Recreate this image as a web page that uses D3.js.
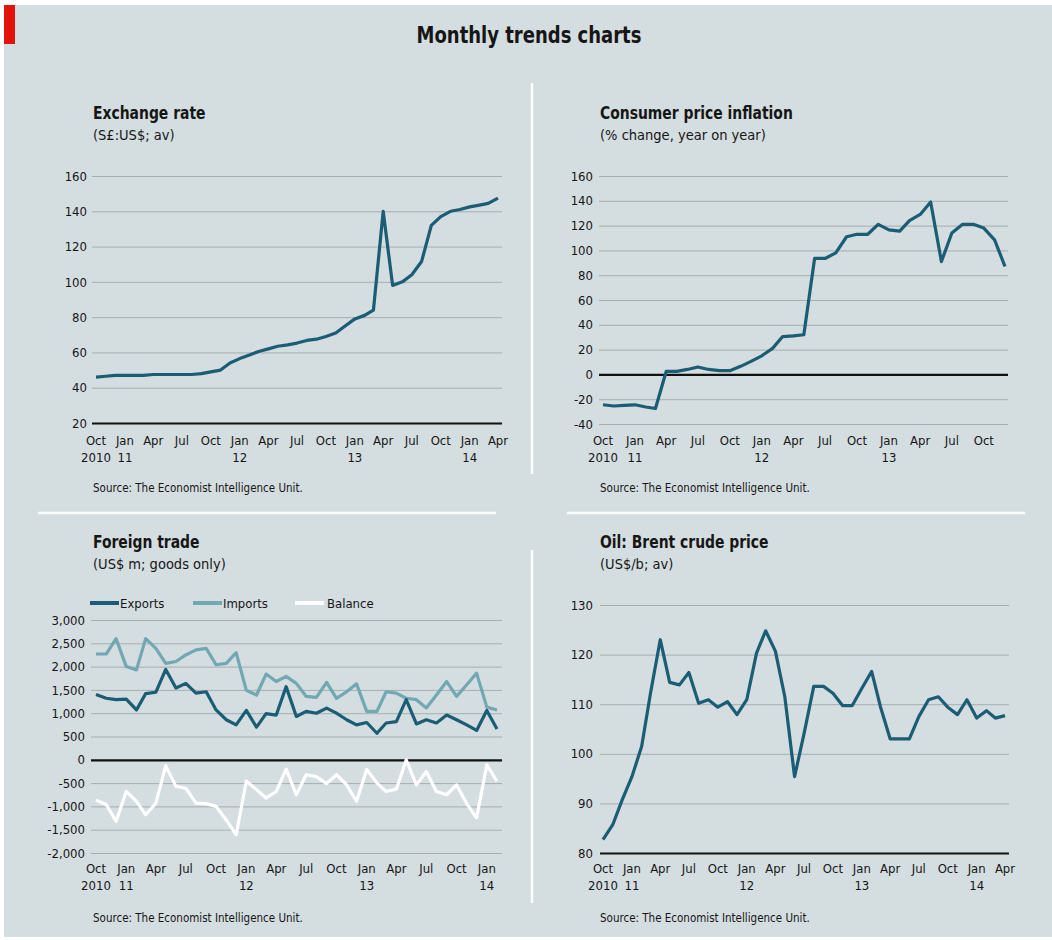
<!DOCTYPE html>
<html>
<head>
<meta charset="utf-8">
<script src="https://cdn.jsdelivr.net/npm/d3@7"></script>
<style>
  body { margin: 0; background: #fff; }
  svg text { font-family: "Liberation Sans Narrow", "DejaVu Sans Condensed", "Roboto Condensed", sans-serif; fill: #161616; }
</style>
</head>
<body>
<svg id="chart" width="1052" height="940"></svg>
<script>
// ---- data (monthly) ----
const exchangeRate = [46, 46.5, 47, 47, 47, 47, 47.5, 47.5, 47.5, 47.5, 47.5, 48, 49, 50, 54,
  56.5, 58.5, 60.5, 62, 63.5, 64.3, 65.3, 66.8, 67.5, 69, 71, 75, 79, 81, 84,
  140, 98, 100, 104, 111.5, 132, 137, 140, 141, 142.5, 143.5, 144.5, 147.5];          // Oct 2010 - Apr 2014
const cpiInflation = [-24.5, -25.5, -25, -24.5, -26.3, -27.5, 2.5, 2.5, 4, 6, 4, 3, 3, 6.5,
  10.5, 15, 21, 30.5, 31, 32, 93.5, 93.5, 98, 111, 113, 113, 121, 116.5, 115.5, 124,
  129, 139, 91, 114, 121, 121, 118, 108.5, 87];                                        // Oct 2010 - Dec 2013
const tradeExports = [1400, 1320, 1290, 1300, 1070, 1420, 1450, 1940, 1540, 1640, 1430, 1460,
  1070, 860, 750, 1060, 700, 990, 960, 1570, 930, 1040, 1000, 1110, 1000, 860, 750, 800,
  570, 790, 820, 1290, 770, 860, 790, 960, 860, 750, 630, 1060, 660];                  // Oct 2010 - Feb 2014
const tradeImports = [2270, 2270, 2600, 2000, 1930, 2600, 2390, 2070, 2110, 2250, 2360, 2390,
  2040, 2070, 2300, 1490, 1390, 1840, 1680, 1790, 1640, 1360, 1340, 1660, 1320, 1460, 1630,
  1040, 1040, 1460, 1430, 1320, 1290, 1110, 1390, 1680, 1360, 1610, 1860, 1130, 1070];
const tradeBalance = [-870, -960, -1320, -680, -890, -1180, -930, -130, -570, -610, -930, -940,
  -1000, -1290, -1610, -460, -640, -820, -680, -200, -750, -320, -360, -510, -320, -540, -890,
  -210, -500, -680, -630, 0, -540, -250, -680, -750, -540, -940, -1250, -110, -460];
const brentPrice = [82.7, 85.7, 90.7, 95.4, 101.5, 112.2, 123, 114.4, 113.9, 116.4, 110.2, 110.9,
  109.4, 110.5, 107.9, 110.9, 120.3, 124.8, 120.7, 111.5, 95.4, 104, 113.6, 113.6, 112.2,
  109.7, 109.7, 113.2, 116.6, 109.5, 103, 103, 103, 107.5, 110.9, 111.5, 109.4, 107.9,
  110.9, 107.2, 108.7, 107.2, 107.7];                                                  // Oct 2010 - Apr 2014

const exchangeTicks = [20, 40, 60, 80, 100, 120, 140, 160];
const cpiTicks = [-40, -20, 0, 20, 40, 60, 80, 100, 120, 140, 160];
const tradeTicks = [-2000, -1500, -1000, -500, 0, 500, 1000, 1500, 2000, 2500, 3000];
const brentTicks = [80, 90, 100, 110, 120, 130];

const tradeSeries = ["Exports", "Imports", "Balance"];
const startMonth = new Date(2010, 9, 1);
const sourceText = "Source: The Economist Intelligence Unit.";

// ---- colours ----
const bg = "#d4dddf";
const dark = "#1a5d75";
const light = "#72a8b3";
const gridCol = "#a5aeb1";

const svg = d3.select("#chart");

svg.append("rect").attr("x", 4).attr("y", 5).attr("width", 1048).attr("height", 932).attr("fill", bg);
svg.append("rect").attr("x", 4).attr("y", 5).attr("width", 11).attr("height", 39).attr("fill", "#e3120b");

// bold headings are squeezed horizontally to look like the narrow house font
svg.append("text")
  .attr("transform", "translate(529,43) scale(0.87,1)")
  .attr("text-anchor", "middle")
  .style("font-size", "23px").style("font-weight", "bold")
  .text("Monthly trends charts");

// white dividers
const divider = svg.append("g").attr("stroke", "#fbfdfd").attr("stroke-width", 2.5);
divider.append("line").attr("x1", 532).attr("x2", 532).attr("y1", 83).attr("y2", 474);
divider.append("line").attr("x1", 532).attr("x2", 532).attr("y1", 550).attr("y2", 903);
divider.append("line").attr("x1", 38).attr("x2", 496).attr("y1", 513).attr("y2", 513);
divider.append("line").attr("x1", 567).attr("x2", 1025).attr("y1", 513).attr("y2", 513);

const monthName = d3.timeFormat("%b");
function tickLines(d, i) {
  const m = d.getMonth();
  if (i === 0) return [monthName(d), String(d.getFullYear())];
  if (m === 0) return [monthName(d), String(d.getFullYear()).slice(2)];
  return [monthName(d)];
}
// plain hyphen instead of the unicode minus
const hyphen = f => v => f(v).replace("\u2212", "-");

function drawPanel(p) {
  const g = svg.append("g");
  g.append("text").attr("transform", `translate(${p.left},${p.top}) scale(0.86,1)`)
    .style("font-size", "18px").style("font-weight", "bold").text(p.title);
  g.append("text").attr("x", p.left).attr("y", p.top + 21)
    .style("font-size", "14.5px").text(p.subtitle);

  const n = d3.max(p.series, s => s.values.length);
  const endMonth = d3.timeMonth.offset(startMonth, n - 1);
  const x = d3.scaleTime().domain([startMonth, endMonth]).range(p.xRange);
  const y = d3.scaleLinear().domain(p.yDomain).range(p.yRange);

  // horizontal grid + y labels
  const yAxis = g.append("g")
    .attr("transform", `translate(${p.gridX[0]},0)`)
    .call(d3.axisLeft(y).tickValues(p.ticks).tickSize(-(p.gridX[1] - p.gridX[0]))
      .tickPadding(5).tickFormat(hyphen(p.format || d3.format("d"))));
  yAxis.select(".domain").remove();
  yAxis.selectAll(".tick line")
    .attr("stroke", d => d === p.baseline ? "#111" : gridCol)
    .attr("stroke-width", d => d === p.baseline ? 2.2 : 1);
  yAxis.selectAll(".tick text")
    .attr("x", p.labelX - p.gridX[0])
    .style("font-size", "13px").style("fill", "#161616");

  // x labels every quarter
  const tickDates = d3.timeMonth.every(3).range(startMonth, d3.timeMonth.offset(endMonth, 1));
  const xt = g.append("g").selectAll("text")
    .data(tickDates).join("text")
    .attr("x", d => x(d)).attr("y", p.xLabelY)
    .attr("text-anchor", "middle")
    .style("font-size", "13px");
  xt.selectAll("tspan")
    .data((d, i) => tickLines(d, i))
    .join("tspan")
    .attr("x", function() { return d3.select(this.parentNode).attr("x"); })
    .attr("dy", (d, i) => i === 0 ? 0 : 17)
    .text(d => d);

  // lines
  const line = d3.line()
    .x((d, i) => x(d3.timeMonth.offset(startMonth, i)))
    .y(d => y(d));
  g.append("g").selectAll("path")
    .data(p.series).join("path")
    .attr("d", s => line(s.values))
    .attr("fill", "none")
    .attr("stroke", s => s.color)
    .attr("stroke-width", 3.2)
    .attr("stroke-linejoin", "round");

  g.append("text").attr("x", p.left).attr("y", p.sourceY)
    .style("font-size", "11.5px").text(sourceText);
  return g;
}

drawPanel({
  title: "Exchange rate", subtitle: "(S£:US$; av)", left: 93, top: 119,
  series: [{ name: "rate", values: exchangeRate, color: dark }],
  xRange: [96, 498], gridX: [92, 502], yDomain: [20, 160], yRange: [423, 176],
  ticks: exchangeTicks, baseline: 20, labelX: 87, xLabelY: 445, sourceY: 492
});

drawPanel({
  title: "Consumer price inflation", subtitle: "(% change, year on year)", left: 600, top: 119,
  series: [{ name: "cpi", values: cpiInflation, color: dark }],
  xRange: [603, 1005], gridX: [599, 1008], yDomain: [-40, 160], yRange: [424, 176],
  ticks: cpiTicks, baseline: 0, labelX: 593, xLabelY: 445, sourceY: 492
});

const trade = drawPanel({
  title: "Foreign trade", subtitle: "(US$ m; goods only)", left: 93, top: 548,
  series: [
    { name: "Imports", values: tradeImports, color: light },
    { name: "Exports", values: tradeExports, color: dark },
    { name: "Balance", values: tradeBalance, color: "#ffffff" }
  ],
  xRange: [96, 497], gridX: [91, 502], yDomain: [-2000, 3000], yRange: [853, 620],
  ticks: tradeTicks, baseline: 0, labelX: 85, xLabelY: 873, sourceY: 922,
  format: d3.format(",")
});

drawPanel({
  title: "Oil: Brent crude price", subtitle: "(US$/b; av)", left: 600, top: 548,
  series: [{ name: "brent", values: brentPrice, color: dark }],
  xRange: [603, 1005], gridX: [600, 1009], yDomain: [80, 130], yRange: [853, 605],
  ticks: brentTicks, baseline: 80, labelX: 593, xLabelY: 873, sourceY: 922
});

// legend for trade panel
const legendColor = d3.scaleOrdinal().domain(tradeSeries).range([dark, light, "#ffffff"]);
const legendX = d3.scaleOrdinal().domain(tradeSeries).range([90, 193, 295]);
const legend = trade.append("g").selectAll("g")
  .data(tradeSeries).join("g")
  .attr("transform", d => `translate(${legendX(d)},603)`);
legend.append("line").attr("x1", 0).attr("x2", 29).attr("y1", 0).attr("y2", 0)
  .attr("stroke", d => legendColor(d)).attr("stroke-width", 4);
legend.append("text").attr("x", d => d === "Balance" ? 32 : 30).attr("y", 5)
  .style("font-size", "13px").text(d => d);
</script>
</body>
</html>
